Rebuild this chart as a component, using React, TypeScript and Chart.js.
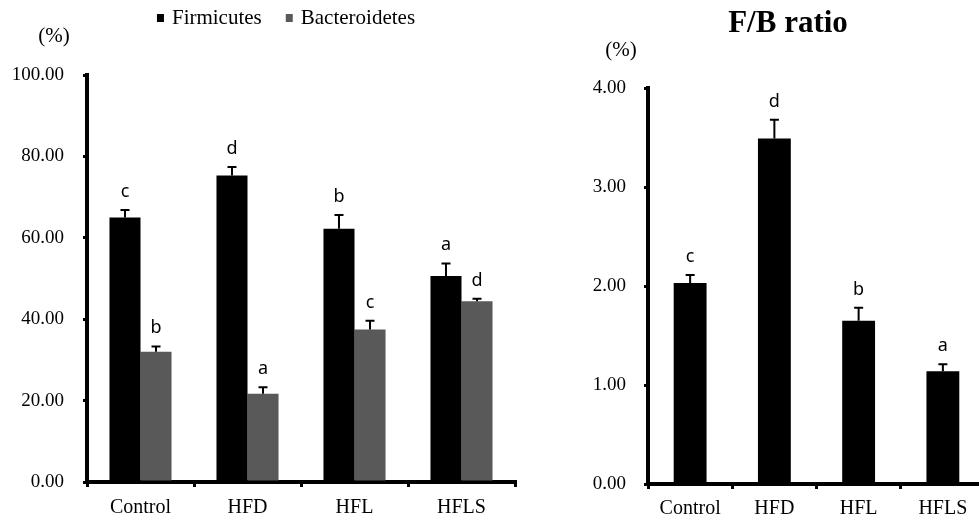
import React, { useEffect, useRef } from 'react';
import { Chart, registerables } from 'chart.js';

Chart.register(...registerables);

const categories = ['Control', 'HFD', 'HFL', 'HFLS'];
const firmicutes = [65.0, 75.3, 62.2, 50.6];
const firmicutesErr = [1.8, 2.1, 3.4, 3.1];
const firmicutesLetters = ['c', 'd', 'b', 'a'];
const bacteroidetes = [32.0, 21.7, 37.5, 44.4];
const bacteroidetesErr = [1.3, 1.6, 2.1, 0.6];
const bacteroidetesLetters = ['b', 'a', 'c', 'd'];
const ratio = [2.03, 3.49, 1.65, 1.14];
const ratioErr = [0.08, 0.19, 0.13, 0.07];
const ratioLetters = ['c', 'd', 'b', 'a'];
const leftTicks = [0, 20, 40, 60, 80, 100];
const rightTicks = [0, 1, 2, 3, 4];

const SERIF = "'Liberation Serif', 'Times New Roman', serif";
const SANS = "'Noto Sans', 'DejaVu Sans', sans-serif";

const errorBarPlugin = {
  id: 'errorBars',
  afterDatasetsDraw(chart: any) {
    const ctx = chart.ctx;
    const yScale = chart.scales.y;
    chart.data.datasets.forEach((ds: any, i: number) => {
      const meta = chart.getDatasetMeta(i);
      meta.data.forEach((el: any, j: number) => {
        const v = ds.data[j];
        const e = ds.errors ? ds.errors[j] : 0;
        const top = yScale.getPixelForValue(v + e);
        ctx.save();
        ctx.strokeStyle = '#000';
        ctx.lineWidth = 2;
        ctx.beginPath();
        ctx.moveTo(el.x, el.y);
        ctx.lineTo(el.x, top);
        ctx.moveTo(el.x - 4.5, top);
        ctx.lineTo(el.x + 4.5, top);
        ctx.stroke();
        if (ds.letters) {
          ctx.fillStyle = '#000';
          ctx.font = `18px ${SANS}`;
          ctx.textAlign = 'center';
          ctx.textBaseline = 'alphabetic';
          ctx.fillText(ds.letters[j], el.x, top - 13);
        }
        ctx.restore();
      });
    });
  },
};

const decorPlugin = {
  id: 'decor',
  afterDraw(chart: any, _args: any, opts: any) {
    const ctx = chart.ctx;
    const area = chart.chartArea;
    ctx.save();
    ctx.fillStyle = '#000';
    if (opts.unit) {
      ctx.font = `21px ${SERIF}`;
      ctx.textAlign = 'center';
      ctx.textBaseline = 'middle';
      ctx.fillText('(%)', area.left + opts.unit.dx, area.top + opts.unit.dy);
    }
    if (opts.title) {
      ctx.font = `bold 31px ${SERIF}`;
      ctx.textAlign = 'center';
      ctx.textBaseline = 'alphabetic';
      ctx.fillText(opts.title.text, area.left + opts.title.dx, opts.title.y);
    }
    if (opts.legend) {
      ctx.font = `21px ${SERIF}`;
      const box = 7;
      const gapBox = 8;
      const gapItem = 24;
      const items = chart.data.datasets.map((ds: any) => ({
        text: ds.label,
        color: ds.backgroundColor,
        w: box + gapBox + ctx.measureText(ds.label).width,
      }));
      const total = items.reduce((s: number, it: any) => s + it.w, 0) + gapItem * (items.length - 1);
      let x = opts.legend.cx - total / 2;
      const y = opts.legend.y;
      items.forEach((it: any) => {
        ctx.fillStyle = it.color;
        ctx.fillRect(x, y - 4, box, 8);
        ctx.fillStyle = '#000';
        ctx.textAlign = 'left';
        ctx.textBaseline = 'middle';
        ctx.fillText(it.text, x + box + gapBox, y);
        x += it.w + gapItem;
      });
    }
    ctx.restore();
  },
};

function makeScales(ticksArr: number[], yWidth: number, xHeight: number, yPad: number, xPad: number) {
  return {
    x: {
      offset: true,
      grid: {
        display: true,
        offset: true,
        drawOnChartArea: false,
        drawTicks: true,
        tickLength: 5,
        color: '#000',
        lineWidth: 3,
      },
      border: { display: true, color: '#000', width: 4 },
      ticks: {
        color: '#000',
        font: { family: SERIF, size: 20 },
        padding: xPad,
        maxRotation: 0,
        autoSkip: false,
      },
      afterFit: (s: any) => {
        s.height = xHeight;
      },
    },
    y: {
      min: ticksArr[0],
      max: ticksArr[ticksArr.length - 1],
      grid: {
        drawOnChartArea: false,
        drawTicks: true,
        tickLength: 4,
        color: '#000',
        lineWidth: 3,
      },
      border: { display: true, color: '#000', width: 4 },
      ticks: {
        color: '#000',
        font: { family: SERIF, size: 19 },
        padding: yPad,
        callback: (v: any) => Number(v).toFixed(2),
      },
      afterBuildTicks: (s: any) => {
        s.ticks = ticksArr.map((v) => ({ value: v }));
      },
      afterFit: (s: any) => {
        s.width = yWidth;
      },
    },
  };
}

export default function App() {
  const leftRef = useRef<HTMLCanvasElement>(null);
  const rightRef = useRef<HTMLCanvasElement>(null);

  useEffect(() => {
    const left = new Chart(leftRef.current as HTMLCanvasElement, {
      type: 'bar',
      data: {
        labels: categories,
        datasets: [
          {
            label: 'Firmicutes',
            data: firmicutes,
            backgroundColor: '#000000',
            errors: firmicutesErr,
            letters: firmicutesLetters,
            barPercentage: 1,
            categoryPercentage: 0.58,
          } as any,
          {
            label: 'Bacteroidetes',
            data: bacteroidetes,
            backgroundColor: '#595959',
            errors: bacteroidetesErr,
            letters: bacteroidetesLetters,
            barPercentage: 1,
            categoryPercentage: 0.58,
          } as any,
        ],
      },
      options: {
        responsive: false,
        animation: false,
        layout: { padding: { top: 75, right: 45, bottom: 0, left: 0 } },
        plugins: {
          legend: { display: false },
          tooltip: { enabled: false },
          decor: { unit: { dx: -33, dy: -39 }, legend: { cx: 286, y: 18 } },
        } as any,
        scales: makeScales(leftTicks, 87, 36, 19, 9) as any,
      },
      plugins: [errorBarPlugin, decorPlugin],
    });

    const right = new Chart(rightRef.current as HTMLCanvasElement, {
      type: 'bar',
      data: {
        labels: categories,
        datasets: [
          {
            label: 'F/B ratio',
            data: ratio,
            backgroundColor: '#000000',
            errors: ratioErr,
            letters: ratioLetters,
            barPercentage: 0.39,
            categoryPercentage: 1,
          } as any,
        ],
      },
      options: {
        responsive: false,
        animation: false,
        layout: { padding: { top: 88, right: 5, bottom: 0, left: 0 } },
        plugins: {
          legend: { display: false },
          tooltip: { enabled: false },
          decor: { unit: { dx: -27, dy: -37.5 }, title: { text: 'F/B ratio', dx: 140, y: 32 } },
        } as any,
        scales: makeScales(rightTicks, 88, 34, 18, 8) as any,
      },
      plugins: [errorBarPlugin, decorPlugin],
    });

    return () => {
      left.destroy();
      right.destroy();
    };
  }, []);

  return (
    <div
      style={{
        position: 'fixed',
        left: 0,
        top: 0,
        width: 979,
        height: 518,
        background: '#fff',
        overflow: 'hidden',
      }}
    >
      <canvas
        ref={leftRef}
        width={560}
        height={518}
        style={{ position: 'absolute', left: 0, top: 0, width: 560, height: 518 }}
      />
      <div style={{ position: 'absolute', left: 560, top: 0, width: 419, height: 518, overflow: 'hidden' }}>
        <canvas
          ref={rightRef}
          width={430}
          height={518}
          style={{ position: 'absolute', left: 0, top: 0, width: 430, height: 518 }}
        />
      </div>
    </div>
  );
}
